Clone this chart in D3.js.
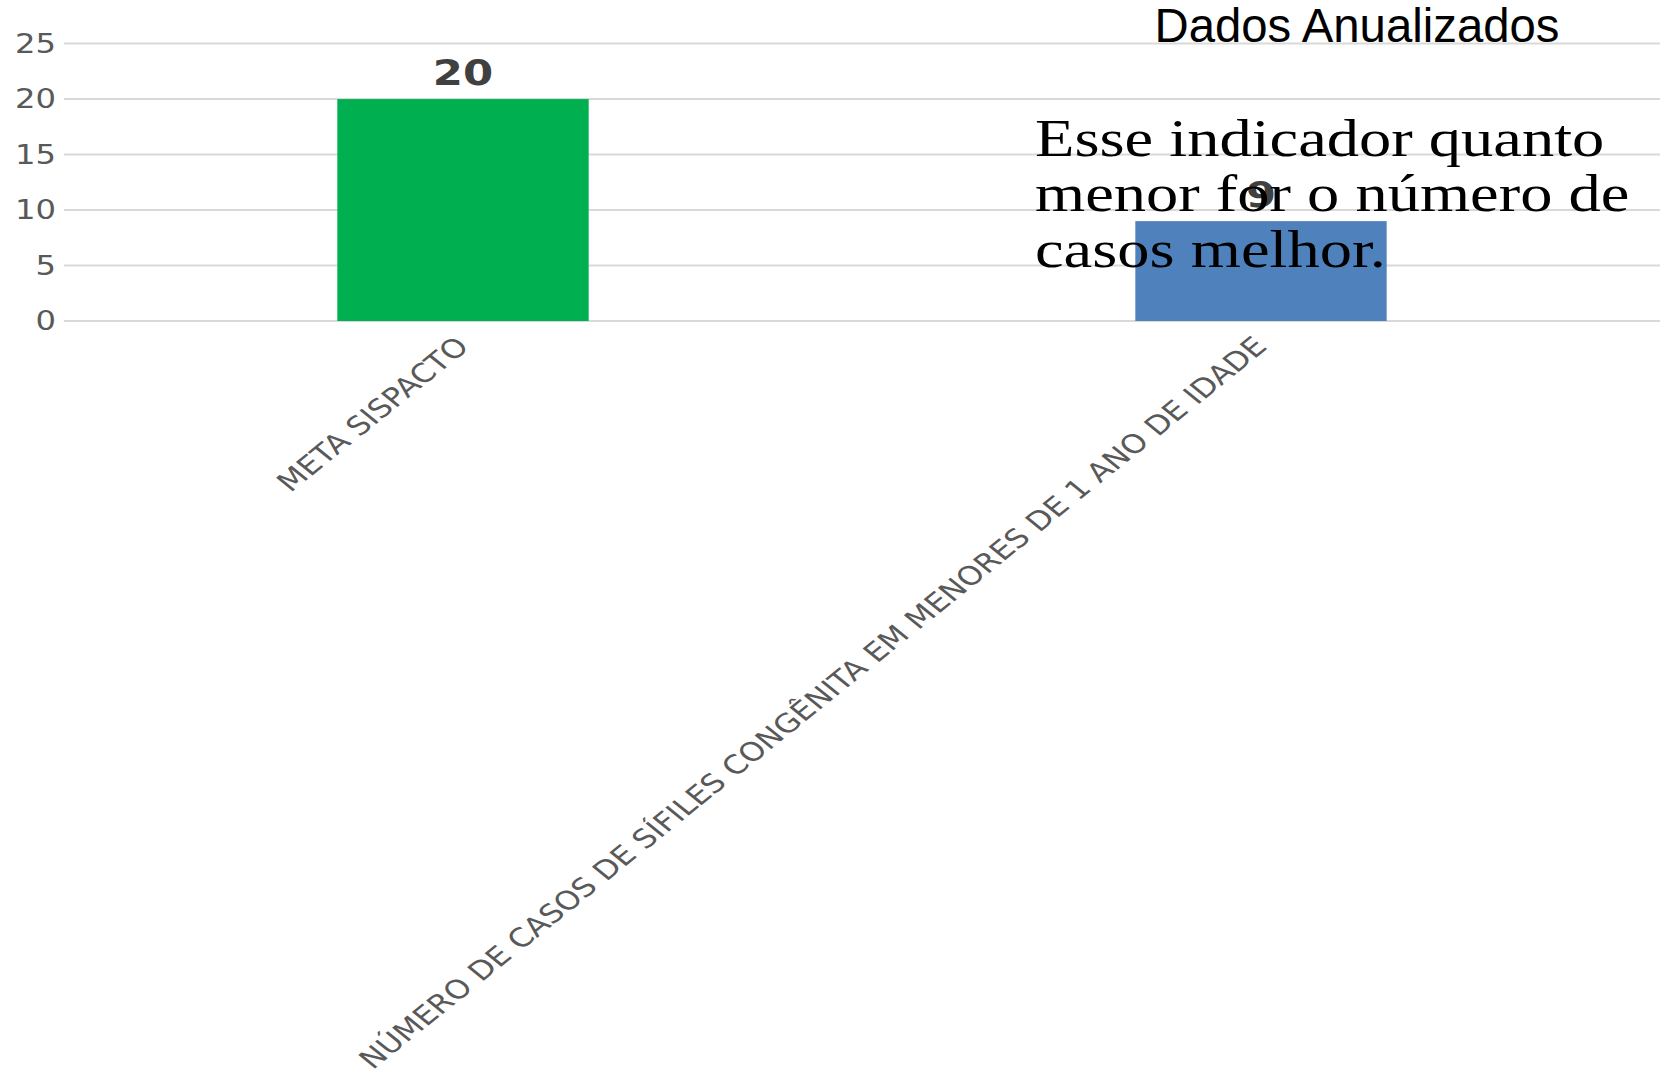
<!doctype html>
<html lang="pt">
<head>
  <meta charset="utf-8" />
  <title>Dados Anualizados</title>
  <script src="https://cdn.jsdelivr.net/npm/d3@7"></script>
  <style>
    html, body { margin: 0; padding: 0; background: #fff; }
    svg { display: block; }
  </style>
</head>
<body>
<script type="text/javascript">

  // data
  var categories = ["META SISPACTO", "NÚMERO DE CASOS DE SÍFILES CONGÊNITA EM MENORES DE 1 ANO DE IDADE"];
  var values = [20, 9];
  var barColors = ["#00b050", "#4f81bd"];
  var yTicks = [0, 5, 10, 15, 20, 25];
  var title = "Dados Anualizados";
  var noteLines = ["Esse indicador quanto", "menor for o número de", "casos melhor."];

  var width = 1666, height = 1081;
  // the original picture was stretched sideways, so draw in a narrower frame and scale x
  var sx = 1.24;

  var svg = d3.select("body").append("svg")
    .attr("width", width)
    .attr("height", height);

  var g = svg.append("g")
    .attr("transform", "scale(" + sx + ",1)");

  var x = d3.scaleBand()
    .domain(categories)
    .range([64 / sx, 1660 / sx])
    .paddingInner(0.685)
    .paddingOuter(0.3425);

  var y = d3.scaleLinear()
    .domain([0, 25])
    .range([321, 43.6]);

  // grid lines
  g.append("g")
    .attr("class", "grid")
    .selectAll("line")
    .data(yTicks)
    .enter().append("line")
    .attr("x1", x.range()[0])
    .attr("x2", x.range()[1])
    .attr("y1", function(d) { return y(d); })
    .attr("y2", function(d) { return y(d); })
    .attr("stroke", "#d9d9d9")
    .attr("stroke-width", 2);

  // y tick labels
  g.append("g")
    .attr("class", "y-labels")
    .selectAll("text")
    .data(yTicks)
    .enter().append("text")
    .attr("x", 56 / sx)
    .attr("y", function(d) { return y(d); })
    .attr("dy", "0.36em")
    .attr("text-anchor", "end")
    .style("font-family", "'DejaVu Sans', Verdana, sans-serif")
    .style("font-size", "26px")
    .style("fill", "#595959")
    .text(function(d) { return d; });

  // bars
  g.append("g")
    .attr("class", "bars")
    .selectAll("rect")
    .data(values)
    .enter().append("rect")
    .attr("x", function(d, i) { return x(categories[i]); })
    .attr("width", x.bandwidth())
    .attr("y", function(d) { return y(d); })
    .attr("height", function(d) { return y(0) - y(d); })
    .attr("fill", function(d, i) { return barColors[i]; });

  // value labels
  g.append("g")
    .attr("class", "values")
    .selectAll("text")
    .data(values)
    .enter().append("text")
    .attr("x", function(d, i) { return x(categories[i]) + x.bandwidth() / 2; })
    .attr("y", function(d) { return y(d) - 14; })
    .attr("text-anchor", "middle")
    .style("font-family", "'DejaVu Sans', Verdana, sans-serif")
    .style("font-weight", "bold")
    .style("font-size", "35px")
    .style("fill", "#404040")
    .text(function(d) { return d; });

  // category labels, turned 45 degrees
  g.append("g")
    .attr("class", "x-labels")
    .selectAll("text")
    .data(categories)
    .enter().append("text")
    .attr("transform", function(d) {
      return "translate(" + (x(d) + x.bandwidth() / 2 + 6) + "," + (y(0) + 27) + ") rotate(-45)";
    })
    .attr("text-anchor", "end")
    .style("font-family", "'DejaVu Sans', Verdana, sans-serif")
    .style("font-size", "26px")
    .style("fill", "#595959")
    .text(function(d) { return d; });

  // title
  g.append("text")
    .attr("x", 1357 / sx)
    .attr("y", 42)
    .attr("text-anchor", "middle")
    .attr("textLength", 405 / sx)
    .attr("lengthAdjust", "spacingAndGlyphs")
    .style("font-family", "'Liberation Sans Narrow', 'Liberation Sans', Arial, sans-serif")
    .style("font-size", "48px")
    .style("fill", "#000")
    .text(title);

  // note text box
  g.append("g")
    .attr("class", "note")
    .selectAll("text")
    .data(noteLines)
    .enter().append("text")
    .attr("x", 1035 / sx)
    .attr("y", function(d, i) { return 156 + i * 55.5; })
    .style("font-family", "'Liberation Serif', 'Times New Roman', serif")
    .style("font-size", "52px")
    .style("fill", "#000")
    .text(function(d) { return d; });

</script>
</body>
</html>
